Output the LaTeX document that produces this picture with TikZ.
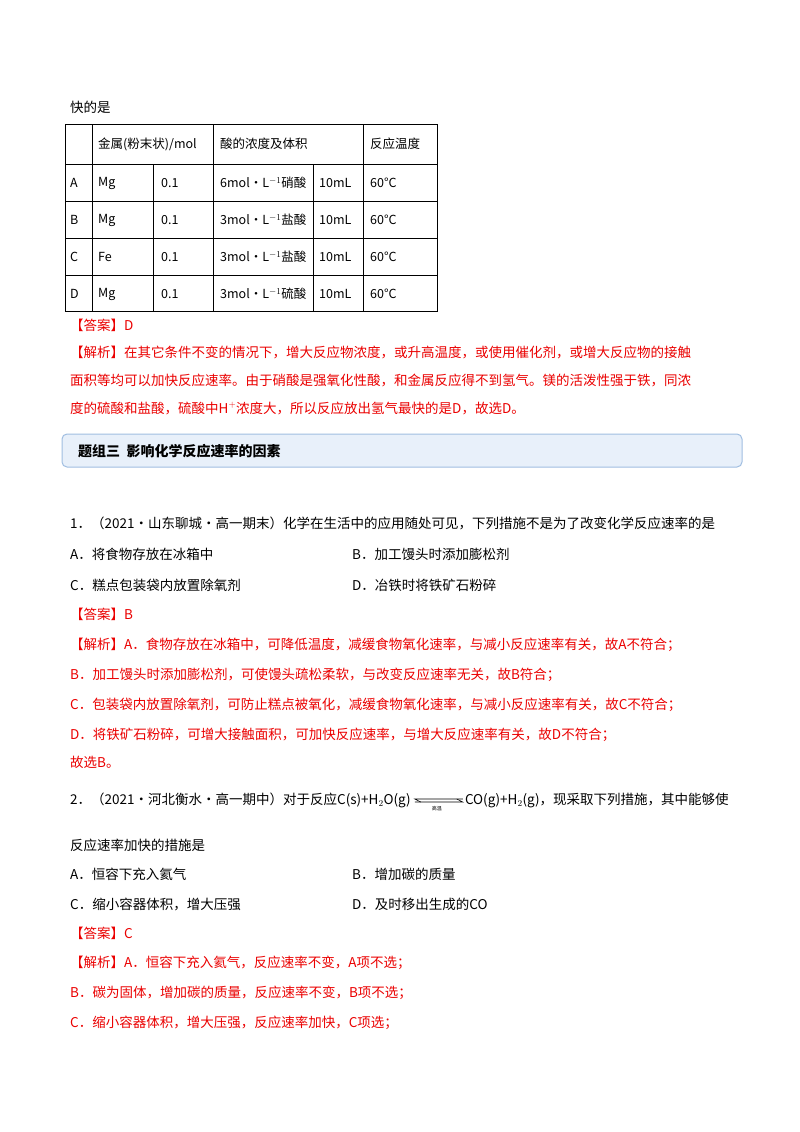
\documentclass[tikz,border=0pt]{standalone}
\usepackage{fontspec}
\setmainfont{Noto Sans CJK SC}
\begin{document}
\begin{tikzpicture}[x=1pt,y=-1pt,
 t/.style={anchor=west,inner sep=0pt,font=\fontsize{13.5}{16}\selectfont},
 r/.style={t,text=ansred},
 c/.style={inner sep=0pt,anchor=west,font=\fontsize{12.5}{15}\selectfont}]
\definecolor{ansred}{RGB}{235,0,0}
\definecolor{hfill}{RGB}{232,240,250}
\definecolor{hline}{RGB}{160,190,225}
\useasboundingbox (0,0) rectangle (800,1132);
\fill[white] (0,0) rectangle (800,1132);
\node[t] (p0) at (70,107) {快的是};
% table
\draw[line width=0.8pt] (65,124) rectangle (437,311);
\foreach \y in {164,201,238,275} \draw[line width=0.8pt] (65,\y) -- (437,\y);
\foreach \x in {92,213,363} \draw[line width=0.8pt] (\x,124) -- (\x,311);
\foreach \x in {153,313} \draw[line width=0.8pt] (\x,164) -- (\x,311);
\node[c] (h1) at (98,144) {金属(粉末状)/mol};
\node[c] (h2) at (220,144) {酸的浓度及体积};
\node[c] (h3) at (370,144) {反应温度};
\foreach \l/\m/\a/\y in {A/Mg/6mol•L$^{-1}$硝酸/183,B/Mg/3mol•L$^{-1}$盐酸/220,C/Fe/3mol•L$^{-1}$盐酸/257,D/Mg/3mol•L$^{-1}$硫酸/294}{
 \node[c] at (70,\y) {\l};
 \node[c] at (98,\y) {\m};
 \node[c] at (161,\y) {0.1};
 \node[c] at (220,\y) {\a};
 \node[c] at (319,\y) {10mL};
 \node[c] at (370,\y) {60°C};
}
\node[r] (a0) at (70,325) {【答案】D};
\node[r] (j1) at (70,352) {【解析】在其它条件不变的情况下，增大反应物浓度，或升高温度，或使用催化剂，或增大反应物的接触};
\node[r] (j2) at (70,380) {面积等均可以加快反应速率。由于硝酸是强氧化性酸，和金属反应得不到氢气。镁的活泼性强于铁，同浓};
\node[r] (j3) at (70,408) {度的硫酸和盐酸，硫酸中H$^+$浓度大，所以反应放出氢气最快的是D，故选D。};
% heading
\draw[hline,fill=hfill,rounded corners=5pt,line width=1pt] (62,434) rectangle (742,467);
\node[t,font=\fontsize{14}{16}\selectfont\bfseries] (hd) at (78,451) {题组三\ \ 影响化学反应速率的因素};
\node[t] (q1) at (70,523) {1．（2021·山东聊城·高一期末）化学在生活中的应用随处可见，下列措施不是为了改变化学反应速率的是};
\node[t] (q1a) at (70,554) {A．将食物存放在冰箱中};
\node[t] (q1b) at (352,554) {B．加工馒头时添加膨松剂};
\node[t] (q1c) at (70,585) {C．糕点包装袋内放置除氧剂};
\node[t] (q1d) at (352,585) {D．冶铁时将铁矿石粉碎};
\node[r] (a1) at (70,614) {【答案】B};
\node[r] (k1) at (70,645) {【解析】A．食物存放在冰箱中，可降低温度，减缓食物氧化速率，与减小反应速率有关，故A不符合；};
\node[r] (k2) at (70,675) {B．加工馒头时添加膨松剂，可使馒头疏松柔软，与改变反应速率无关，故B符合；};
\node[r] (k3) at (70,705) {C．包装袋内放置除氧剂，可防止糕点被氧化，减缓食物氧化速率，与减小反应速率有关，故C不符合；};
\node[r] (k4) at (70,735) {D．将铁矿石粉碎，可增大接触面积，可加快反应速率，与增大反应速率有关，故D不符合；};
\node[r] (k5) at (70,762) {故选B。};
\node[t] (q2) at (70,800) {2．（2021·河北衡水·高一期中）对于反应C(s)+H$_2$O(g)};
\coordinate (e1) at ([xshift=4pt]q2.east);
\coordinate (e2) at ([xshift=52pt]q2.east);
\draw[line width=0.6pt] ([yshift=-2pt]e1) -- ([yshift=-2pt]e2) -- ++(-6,-3);
\draw[line width=0.6pt] ([yshift=1pt]e2) -- ([yshift=1pt]e1) -- ++(6,3);
\node[font=\fontsize{5}{6}\selectfont,inner sep=0pt] (gw) at ([xshift=26pt,yshift=-9pt]q2.east) {高温};
\node[t] (q2b) at ([xshift=2pt]e2) {CO(g)+H$_2$(g)，现采取下列措施，其中能够使};
\node[t] (q2c) at (70,845) {反应速率加快的措施是};
\node[t] (q2a1) at (70,874) {A．恒容下充入氦气};
\node[t] (q2b1) at (352,874) {B．增加碳的质量};
\node[t] (q2c1) at (70,904) {C．缩小容器体积，增大压强};
\node[t] (q2d1) at (352,904) {D．及时移出生成的CO};
\node[r] (a2) at (70,933) {【答案】C};
\node[r] (m1) at (70,963) {【解析】A．恒容下充入氦气，反应速率不变，A项不选；};
\node[r] (m2) at (70,993) {B．碳为固体，增加碳的质量，反应速率不变，B项不选；};
\node[r] (m3) at (70,1023) {C．缩小容器体积，增大压强，反应速率加快，C项选；};
\end{tikzpicture}
\end{document}
